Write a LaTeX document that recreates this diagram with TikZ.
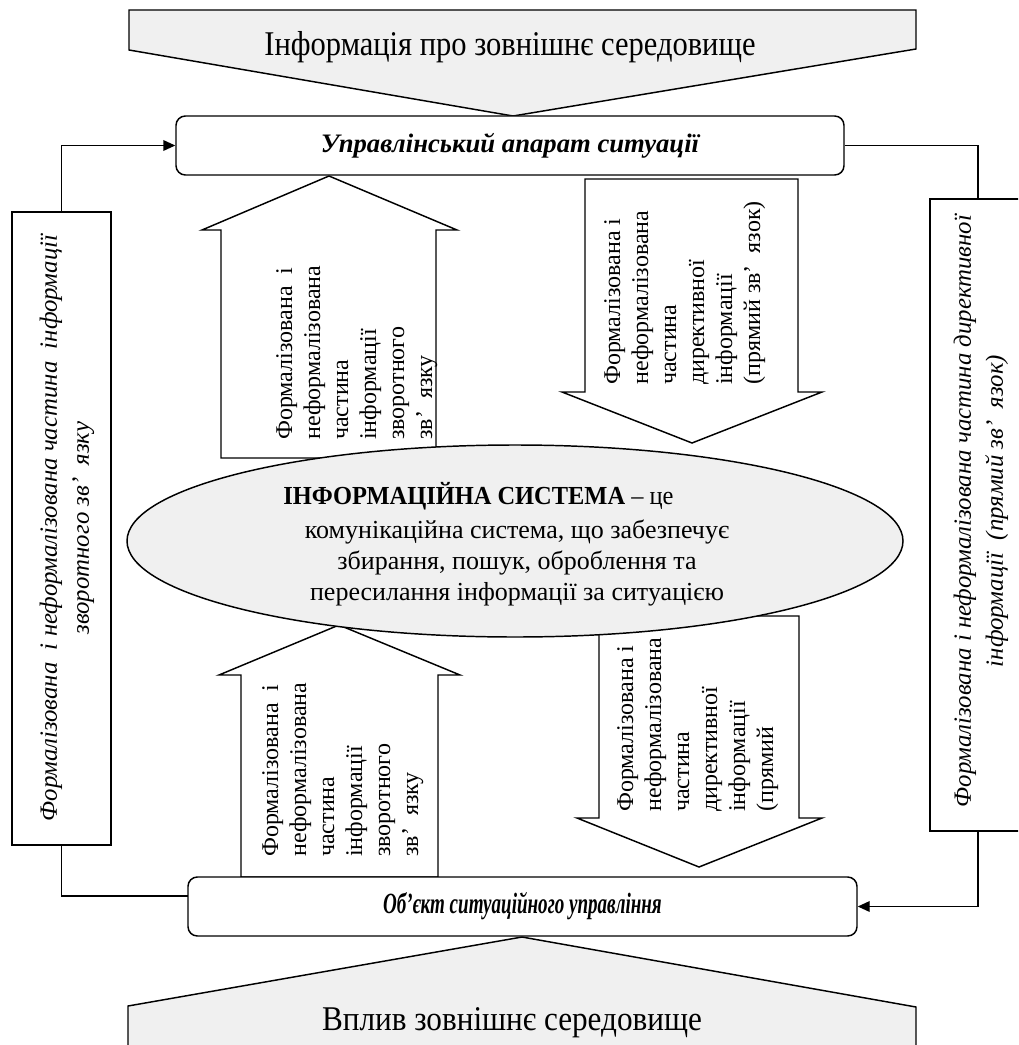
\documentclass[tikz,border=0pt]{standalone}
\usepackage{fontspec}
\setmainfont{Liberation Serif}
\usetikzlibrary{arrows.meta,shapes.geometric}
\begin{document}
\begin{tikzpicture}[x=0.75pt,y=-0.75pt,
  bigarrow/.style={draw, line width=1.1pt, fill=black!6, line join=miter},
  blockarrow/.style={draw, line width=1.1pt, fill=white, line join=miter},
  roundbox/.style={draw, line width=1.1pt, fill=white, rounded corners=7pt, inner sep=0pt},
  sidebox/.style={draw, line width=1.1pt, fill=white, inner sep=0pt},
  conn/.style={line width=1.1pt},
  tip/.style={-{Triangle[length=9pt,width=8pt]}},
  vtext/.style={rotate=90, anchor=north west, align=left, inner sep=0pt, font=\fontsize{18}{21}\selectfont},
  stext/.style={rotate=90, align=center, inner sep=0pt, font=\itshape\fontsize{18.6}{24}\selectfont},
  blabel/.style={font=\bfseries\itshape\fontsize{20}{24}\selectfont},
  bigtext/.style={font=\fontsize{26}{30}\selectfont, inner sep=0pt},
  systext/.style={font=\fontsize{19.5}{23.6}\selectfont, inner sep=0pt},
]
\useasboundingbox (0,0) rectangle (1018,1045);
\clip (0,0) rectangle (1018,1045);

% top big arrow
\draw[bigarrow] (129,10) -- (916,10) -- (916,49) -- (513,116) -- (129,50) -- cycle;
\node[bigtext] (toptext) at (510,47) {\scalebox{0.88}[1]{Інформація про зовнішнє середовище}};

% bottom big arrow
\draw[bigarrow] (128,1006) -- (522,937) -- (916,1007) -- (916,1070) -- (128,1070) -- cycle;
\node[bigtext] (bottext) at (512,1023) {\scalebox{0.9}[1]{Вплив зовнішнє середовище}};

% block arrows
\draw[blockarrow] (221,458) -- (221,230) -- (202,230) -- (329,176) -- (457,230) -- (436,230) -- (436,458) -- cycle;
\draw[blockarrow] (585,179) -- (798,179) -- (798,392) -- (822,392) -- (692,443) -- (562,392) -- (585,392) -- cycle;
\draw[blockarrow] (241,877) -- (241,675) -- (219,675) -- (339,625) -- (460,675) -- (438,675) -- (438,877) -- cycle;
\draw[blockarrow] (599,616) -- (799,616) -- (799,818) -- (822,818) -- (699,867) -- (577,818) -- (599,818) -- cycle;

% ellipse
\node[ellipse, draw, line width=1.1pt, fill=black!6, minimum width=582pt, minimum height=144pt, inner sep=0pt] (sys) at (515,541) {};
\node[systext, anchor=base west] (sysline) at (283,504) {\scalebox{0.94}[1]{\textbf{ІНФОРМАЦІЙНА СИСТЕМА} – це}};
\node[systext, align=center] (sysrest) at (517,563)
  {комунікаційна система, що забезпечує\\збирання, пошук, оброблення та\\пересилання інформації за ситуацією};

% boxes
\node[roundbox, blabel, minimum width=501pt, minimum height=44.25pt] (topbox) at (510,145.5) {Управлінський апарат ситуації};
\node[roundbox, font=\bfseries\itshape\fontsize{22}{26}\selectfont, minimum width=501.75pt, minimum height=44.25pt] (botbox) at (522.5,906.5) {\scalebox{0.65}[1]{Об’єкт ситуаційного управління}};
\node[sidebox, minimum width=74.25pt, minimum height=474.75pt] (lbox) at (61.5,528.5) {};
\node[sidebox, minimum width=72pt, minimum height=474pt] (rbox) at (978,515) {};

% side texts
\node[stext] (ltext) at (67,528) {Формалізована\ \ і неформалізована частина\ \ інформації\\зворотного зв’\ \ язку};
\node[stext] (rtext) at (981,511) {Формалізована і неформалізована частина директивної\\інформації\ \ (прямий зв’\ \ язок)};

% arrow texts
\node[vtext] (ult) at (276,440) {Формалізована\ \ і\\неформалізована\\частина\\інформації\\зворотного\\зв’\ \ язку};
\node[vtext] (urt) at (604,385) {Формалізована і\\неформалізована\\частина\\директивної\\інформації\\(прямий зв’\ \ язок)};
\node[vtext] (llt) at (262,857) {Формалізована\ \ і\\неформалізована\\частина\\інформації\\зворотного\\зв’\ \ язку};
\node[vtext] (lrt) at (617,812) {Формалізована і\\неформалізована\\частина\\директивної\\інформації\\(прямий};

% connectors
\coordinate (lj) at (188,896);
\draw[conn, tip] (lbox.north) |- (topbox.west);
\draw[conn] (topbox.east) -| (rbox.north);
\draw[conn, tip] (rbox.south) |- (botbox.east);
\draw[conn] (lbox.south) |- (lj);
\end{tikzpicture}
\end{document}
